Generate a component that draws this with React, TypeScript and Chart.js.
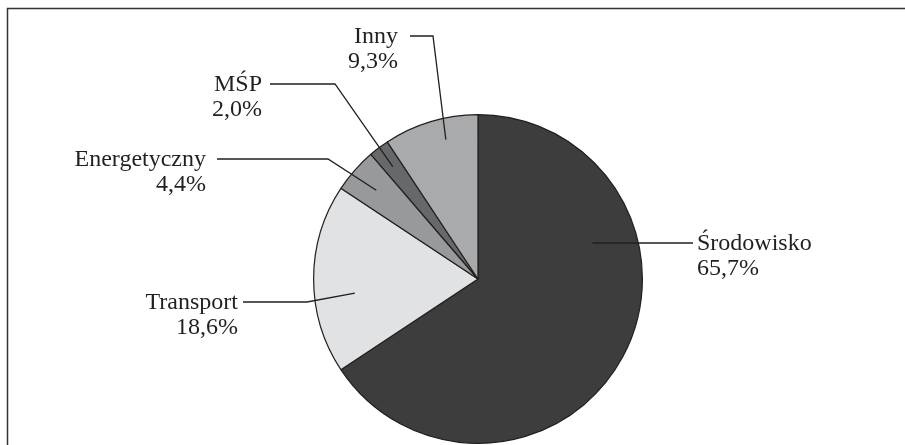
import React, { useEffect, useRef } from "react";
import { Chart, registerables } from "chart.js";

Chart.register(...registerables);

const categories = ["Środowisko", "Transport", "Energetyczny", "MŚP", "Inny"];
const shares = [65.7, 18.6, 4.4, 2.0, 9.3];
const percentLabels = ["65,7%", "18,6%", "4,4%", "2,0%", "9,3%"];
const sliceColors = ["#3d3d3d", "#e1e2e4", "#98999b", "#67686a", "#a9aaac"];

// label layout: anchor angle (deg from top, clockwise) & distance inside slice,
// elbow point, text side
const labelLayout = [
  { ang: 72.6, dist: 120, elbow: [693, 243], end: [593, 243], side: "right", tx: 697 },
  { ang: -96.5, dist: 124, elbow: [307, 302], end: [243, 302], side: "left", tx: 238 },
  { ang: -48.9, dist: 135, elbow: [328, 159], end: [217, 159], side: "left", tx: 206 },
  { ang: -37.2, dist: 141, elbow: [335, 84], end: [270, 84], side: "left", tx: 262 },
  { ang: -13, dist: 143, elbow: [433, 36], end: [410, 36], side: "left", tx: 398 },
];

const labelPlugin = {
  id: "leaderLabels",
  afterDraw(chart: any) {
    const ctx = chart.ctx;
    ctx.save();
    // frame
    ctx.strokeStyle = "#333";
    ctx.lineWidth = 1.5;
    ctx.strokeRect(7.5, 8.5, 1200, 1200);
    const meta = chart.getDatasetMeta(0);
    const arc0 = meta.data[0];
    const cx = arc0.x;
    const cy = arc0.y;
    ctx.font = "24px 'Liberation Serif', 'Times New Roman', serif";
    ctx.fillStyle = "#231f20";
    labelLayout.forEach((l, i) => {
      const a = (l.ang * Math.PI) / 180;
      const ax = cx + Math.sin(a) * l.dist;
      const ay = cy - Math.cos(a) * l.dist;
      ctx.strokeStyle = "#231f20";
      ctx.lineWidth = 1.3;
      ctx.beginPath();
      ctx.moveTo(ax, ay);
      ctx.lineTo(l.elbow[0], l.elbow[1]);
      ctx.lineTo(l.end[0], l.end[1]);
      ctx.stroke();
      const y = l.end[1];
      ctx.textAlign = l.side === "left" ? "right" : "left";
      ctx.textBaseline = "alphabetic";
      ctx.fillText(categories[i], l.tx, y + 7);
      ctx.fillText(percentLabels[i], l.tx, y + 32);
    });
    ctx.restore();
  },
};

export default function App() {
  const ref = useRef<HTMLCanvasElement>(null);
  useEffect(() => {
    document.body.style.margin = "0";
    const chart = new Chart(ref.current!, {
      type: "pie",
      data: {
        labels: categories,
        datasets: [
          {
            data: shares,
            backgroundColor: sliceColors,
            borderColor: "#231f20",
            borderWidth: 1.2,
          },
        ],
      },
      options: {
        animation: false,
        responsive: false,
        maintainAspectRatio: false,
        layout: { padding: { left: 313, right: 262, top: 114, bottom: 1 } },
        plugins: { legend: { display: false }, tooltip: { enabled: false } },
      },
      plugins: [labelPlugin],
    });
    return () => chart.destroy();
  }, []);
  return (
    <div style={{ width: 905, height: 445, background: "#fff" }}>
      <canvas ref={ref} width={905} height={445} style={{ display: "block" }} />
    </div>
  );
}
